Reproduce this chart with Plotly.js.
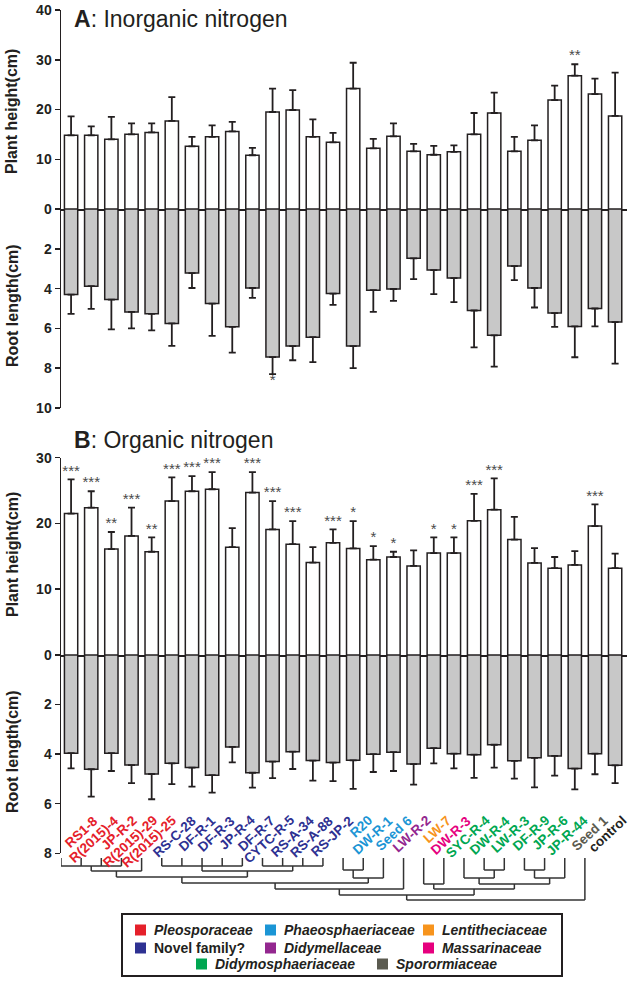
<!DOCTYPE html>
<html><head><meta charset="utf-8">
<script src="https://cdn.plot.ly/plotly-3.0.1.min.js"></script>
<style>html,body{margin:0;padding:0;background:#fff;}#chart{width:635px;height:981px;}</style>
</head><body><div id="chart"></div>
<script>
// ---------------- DATA ----------------
const categories = ['RS1-8','R(2015)-4','JP-R-2','R(2015)-29','R(2015)-25','RS-C-28','DF-R-1','DF-R-3','JP-R-4','DF-R-7','CYTC-R-5','RS-A-34','RS-A-88','RS-JP-2','R20','DW-R-1','Seed 6','LW-R-2','LW-7','DW-R-3','SYC-R-4','DW-R-4','LW-R-3','DF-R-9','JP-R-6','JP-R-44','Seed 1','control'];
// family index per category (-1 = control)
const familyOf = [0,0,0,0,0,1,1,1,1,1,1,1,1,1,2,2,2,4,3,5,6,6,6,6,6,6,7,-1];
const families = ['Pleosporaceae','Novel family?','Phaeosphaeriaceae','Lentitheciaceae','Didymellaceae','Massarinaceae','Didymosphaeriaceae','Sporormiaceae'];
const familyItalic = [true,false,true,true,true,true,true,true];
const familyColors = ['#e5202a','#2e3192','#1b95d5','#f7941d','#93278f','#e6007e','#00a651','#5b5b50'];

// A: Inorganic nitrogen
const heightA    = [14.8,14.8,14.0,15.0,15.4,17.7,12.6,14.5,15.6,10.8,19.5,19.9,14.5,13.4,24.2,12.2,14.6,11.6,10.9,11.5,15.0,19.3,11.6,13.8,21.9,26.8,23.1,18.7];
const heightA_sd = [3.8,1.8,4.5,2.2,1.8,4.8,1.9,2.3,1.9,1.5,4.7,4.0,3.5,1.9,5.2,1.9,2.6,1.5,1.8,1.3,4.3,4.1,2.9,3.0,2.9,2.3,3.1,8.7];
const rootA      = [4.30,3.88,4.55,5.17,5.27,5.75,3.22,4.75,5.92,3.97,7.44,6.89,6.44,4.25,6.89,4.08,4.02,2.48,3.07,3.47,5.10,6.35,2.87,3.97,5.23,5.90,5.00,5.68];
const rootA_sd   = [0.97,1.14,1.50,0.83,0.83,1.13,0.75,1.63,1.30,0.50,0.86,0.71,1.25,0.57,1.11,1.09,0.60,1.04,1.21,1.21,1.85,1.57,0.70,0.98,0.69,1.55,0.90,2.09];
const sigHeightA = ['','','','','','','','','','','','','','','','','','','','','','','','','','**','',''];
const sigRootA   = ['','','','','','','','','','','*','','','','','','','','','','','','','','','','',''];

// B: Organic nitrogen
const heightB    = [21.5,22.4,16.1,18.1,15.7,23.4,24.9,25.2,16.4,24.7,19.1,16.85,14.06,17.05,16.2,14.5,14.9,13.55,15.5,15.5,20.4,22.1,17.55,14.0,13.2,13.7,19.6,13.2];
const heightB_sd = [5.2,2.5,2.6,4.3,2.2,3.6,2.3,2.6,2.9,3.1,4.3,3.5,2.34,2.05,4.15,2.05,0.8,2.35,2.4,2.4,4.1,4.75,3.45,2.25,1.7,2.1,3.3,2.2];
const rootB      = [3.96,4.61,3.96,4.44,4.80,4.37,4.54,4.85,3.71,4.75,4.30,3.90,4.26,4.34,4.25,4.00,3.92,4.40,3.76,3.98,4.02,3.62,4.27,4.15,4.07,4.58,3.98,4.45];
const rootB_sd   = [0.61,1.10,0.72,0.73,1.02,0.84,0.77,0.70,0.62,0.60,0.67,0.70,0.81,0.75,1.15,0.72,0.76,0.83,0.61,0.59,0.94,0.92,0.72,1.19,0.80,0.84,0.83,0.72];
const sigHeightB = ['***','***','**','***','**','***','***','***','','***','***','***','','***','*','*','*','','*','*','***','***','','','','','***',''];

// Dendrogram (merge list; kids are leaf indices or node ids; h = merge distance)
const dendroNodes = [
  {id:'n0',  kids:[0,1,2,3],       h:8},
  {id:'n1',  kids:['n0',4],        h:13},
  {id:'n2',  kids:[5,6,7,8,9],     h:8},
  {id:'n3',  kids:[10,11,12,13],   h:8},
  {id:'n4',  kids:['n2','n3'],     h:13},
  {id:'n5',  kids:['n1','n4'],     h:19},
  {id:'n6',  kids:[14,15],         h:12},
  {id:'n7',  kids:['n6',16],       h:20},
  {id:'n8',  kids:['n5','n7'],     h:25},
  {id:'n9',  kids:['n8',17],       h:31},
  {id:'n10', kids:[18,19],         h:26},
  {id:'n11', kids:[21,22],         h:12},
  {id:'n12', kids:[20,'n11'],      h:20},
  {id:'n13', kids:[23,24],         h:12},
  {id:'n14', kids:['n13',25],      h:20},
  {id:'n15', kids:['n12','n14'],   h:26},
  {id:'n16', kids:['n10','n15'],   h:31},
  {id:'n17', kids:['n9','n16'],    h:37},
  {id:'n18', kids:['n17',26],      h:42}
];

// ---------------- LAYOUT HELPERS ----------------
const W = 635, H = 981;
const px = x => x / W, py = y => 1 - y / H;
const FONT = 'Liberation Sans, Arial, Helvetica, sans-serif';
const INK = '#231f20';
const idx = categories.map((c, i) => i);
const XDOM = [px(61), px(627)];
const XR = [-0.5, 27.59];

function barTrace(vals, sd, xa, ya, fill) {
  return {type:'bar', x:idx, y:vals, xaxis:xa, yaxis:ya, width:0.66,
    marker:{color:fill, line:{color:INK, width:1.5}},
    error_y:{type:'data', symmetric:false, array:sd, arrayminus:sd.map(() => 0), color:INK, thickness:1.8, width:3.5},
    hoverinfo:'skip', showlegend:false};
}
function sigTrace(vals, sd, sig, xa, ya, pos) {
  const xs = [], ys = [], ts = [];
  sig.forEach((s, i) => { if (s) { xs.push(i); ys.push(vals[i] + sd[i]); ts.push(s); } });
  return {type:'scatter', mode:'text', x:xs, y:ys, text:ts, textposition:pos, xaxis:xa, yaxis:ya,
    textfont:{family:FONT, size:15, color:'#4a4a4a'}, cliponaxis:false, showlegend:false, hoverinfo:'skip'};
}

// dendrogram segments
const nodeX = {}, nodeH = {};
idx.forEach(i => { nodeX[i] = i; nodeH[i] = 0; });
const dX = [], dY = [];
dendroNodes.forEach(n => {
  const xs = n.kids.map(k => nodeX[k]);
  const lo = Math.min(...xs), hi = Math.max(...xs);
  dX.push(lo, hi, null); dY.push(n.h, n.h, null);
  n.kids.forEach(k => { dX.push(nodeX[k], nodeX[k], null); dY.push(nodeH[k], n.h, null); });
  nodeX[n.id] = (lo + hi) / 2; nodeH[n.id] = n.h;
});

const traces = [
  barTrace(heightA, heightA_sd, 'x', 'y', '#ffffff'),
  barTrace(rootA, rootA_sd, 'x', 'y2', '#c8c8c8'),
  barTrace(heightB, heightB_sd, 'x2', 'y3', '#ffffff'),
  barTrace(rootB, rootB_sd, 'x2', 'y4', '#c8c8c8'),
  sigTrace(heightA, heightA_sd, sigHeightA, 'x', 'y', 'top center'),
  sigTrace(rootA, rootA_sd, sigRootA, 'x', 'y2', 'bottom center'),
  sigTrace(heightB, heightB_sd, sigHeightB, 'x2', 'y3', 'top center'),
  {type:'scatter', mode:'lines', x:dX, y:dY, xaxis:'x3', yaxis:'y5', line:{color:'#333', width:1.5},
   hoverinfo:'skip', showlegend:false, connectgaps:false}
];

function xAxis(posY) {
  return {domain:XDOM, range:XR, anchor:'free', position:py(posY), showline:true, linecolor:INK, linewidth:1.5,
    ticks:'outside', ticklen:4, tickwidth:1.5, tickcolor:INK, tickvals:idx, showticklabels:false,
    showgrid:false, zeroline:false, fixedrange:true};
}
function yAxis(dom, range, vals, anchor) {
  return {domain:dom, range:range, anchor:anchor, showline:true, linecolor:INK, linewidth:1.5,
    ticks:'outside', ticklen:5, tickwidth:1.5, tickcolor:INK, tickvals:vals, ticktext:vals.map(v => '<b>' + v + '</b>'),
    tickfont:{family:FONT, size:14, color:INK}, showgrid:false, zeroline:false, fixedrange:true};
}

const annotations = [];
const shapes = [];
// panel titles
annotations.push({text:'<b>A</b>: Inorganic nitrogen', xref:'paper', yref:'paper', x:px(72), y:py(19), xanchor:'left', yanchor:'middle', showarrow:false, font:{family:FONT, size:23, color:INK}});
annotations.push({text:'<b>B</b>: Organic nitrogen', xref:'paper', yref:'paper', x:px(72), y:py(440), xanchor:'left', yanchor:'middle', showarrow:false, font:{family:FONT, size:23, color:INK}});
// axis titles
[['Plant height(cm)', 112], ['Root length(cm)', 306], ['Plant height(cm)', 555], ['Root length(cm)', 752]].forEach(t => {
  annotations.push({text:'<b>' + t[0] + '</b>', xref:'paper', yref:'paper', x:px(12), y:py(t[1]), xanchor:'center', yanchor:'middle', textangle:-90, showarrow:false, font:{family:FONT, size:16, color:INK}});
});
// category labels (panel B)
categories.forEach((c, i) => {
  const col = familyOf[i] >= 0 ? familyColors[familyOf[i]] : INK;
  annotations.push({text:'<b>' + c + '</b>', xref:'x2', yref:'paper', x:i + 0.5, xshift:23 - 15 * i / 27, y:py(810), xanchor:'right', yanchor:'top', textangle:-43, showarrow:false, font:{family:FONT, size:13.5, color:col}});
});
// legend box
shapes.push({type:'rect', xref:'paper', yref:'paper', x0:px(122), x1:px(562), y0:py(976), y1:py(914), line:{color:INK, width:2}, fillcolor:'rgba(0,0,0,0)'});
const legendPos = [[135,930],[135,948],[265,930],[423,930],[265,948],[423,948],[196,964],[377,964]];
families.forEach((f, k) => {
  const [lx, ly] = legendPos[k];
  shapes.push({type:'rect', xref:'paper', yref:'paper', x0:px(lx), x1:px(lx + 11), y0:py(ly + 5.5), y1:py(ly - 5.5), line:{width:0}, fillcolor:familyColors[k]});
  const txt = familyItalic[k] ? '<b><i>' + f + '</i></b>' : '<b>' + f + '</b>';
  annotations.push({text:txt, xref:'paper', yref:'paper', x:px(lx + 17), y:py(ly), xanchor:'left', yanchor:'middle', showarrow:false, font:{family:FONT, size:14, color:INK}});
});

const layout = {
  width:W, height:H, margin:{l:0, r:0, t:0, b:0}, paper_bgcolor:'#fff', plot_bgcolor:'rgba(0,0,0,0)',
  showlegend:false, bargap:0.3,
  xaxis: xAxis(209),
  xaxis2: xAxis(655),
  xaxis3: {domain:XDOM, range:[0, 28.09], anchor:'y5', visible:false, fixedrange:true},
  yaxis: yAxis([py(209), py(10)], [0, 40], [0,10,20,30,40], 'x'),
  yaxis2: yAxis([py(408), py(209)], [10, 0], [2,4,6,8,10], 'x'),
  yaxis3: yAxis([py(655), py(457.7)], [0, 30], [0,10,20,30], 'x2'),
  yaxis4: yAxis([py(853.3), py(655)], [8, 0], [2,4,6,8], 'x2'),
  yaxis5: {domain:[py(902), py(858)], range:[44, 0], anchor:'x3', visible:false, fixedrange:true},
  annotations:annotations, shapes:shapes
};

Plotly.newPlot('chart', traces, layout, {displayModeBar:false, staticPlot:true});
</script></body></html>
